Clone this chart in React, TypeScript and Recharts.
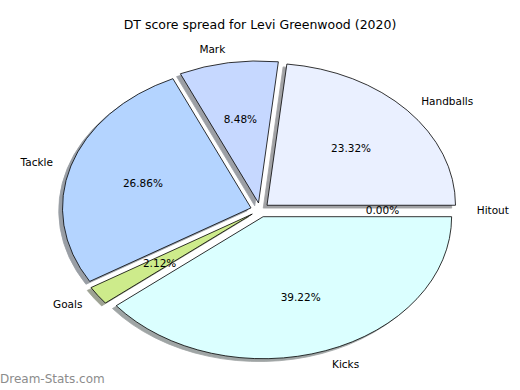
import React from 'react';
import { PieChart, Pie, Cell } from 'recharts';

// values are percent shares
const categories = ['Hitout', 'Handballs', 'Mark', 'Tackle', 'Goals', 'Kicks'];
const shares = [0, 23.32, 8.48, 26.86, 2.12, 39.22];
const sliceColors = ['#eef4ff', '#eaf0ff', '#c6d8ff', '#b4d4ff', '#cdeb8b', '#dbffff'];

const data = categories.map((name, i) => ({ name, value: shares[i] }));

const RX = 188.5;
const RY = 142;
const EXPLODE = 0.05;
const RAD = Math.PI / 180;
const FONT = '"DejaVu Sans", sans-serif';

// matplotlib-ish shadow: 0.3 * facecolor
const darken = (hex: string) => {
    const n = parseInt(hex.slice(1), 16);
    const r = Math.round(((n >> 16) & 255) * 0.3);
    const g = Math.round(((n >> 8) & 255) * 0.3);
    const b = Math.round((n & 255) * 0.3);
    return `rgb(${r},${g},${b})`;
};

const makeWedge = (shadow: boolean) => (props: any) => {
    const { cx, cy, startAngle, endAngle, midAngle, fill } = props;
    const ox = cx + EXPLODE * RX * Math.cos(midAngle * RAD) + (shadow ? -0.02 * RX : 0);
    const oy = cy - EXPLODE * RY * Math.sin(midAngle * RAD) + (shadow ? 0.02 * RY : 0);
    const x1 = ox + RX * Math.cos(startAngle * RAD);
    const y1 = oy - RY * Math.sin(startAngle * RAD);
    const x2 = ox + RX * Math.cos(endAngle * RAD);
    const y2 = oy - RY * Math.sin(endAngle * RAD);
    const large = Math.abs(endAngle - startAngle) > 180 ? 1 : 0;
    const d = `M${ox},${oy} L${x1},${y1} A${RX},${RY} 0 ${large} 0 ${x2},${y2} Z`;
    if (shadow) {
        return <path d={d} fill={fill} stroke={fill} strokeWidth={0.8} opacity={0.5} />;
    }
    return <path d={d} fill={fill} stroke="#000" strokeWidth={0.8} />;
};

const renderLabel = (props: any) => {
    const { cx, cy, midAngle, percent, name } = props;
    const c = Math.cos(midAngle * RAD);
    const s = Math.sin(midAngle * RAD);
    const lx = cx + (EXPLODE + 1.1) * RX * c;
    const ly = cy - (EXPLODE + 1.1) * RY * s;
    const px = cx + (EXPLODE + 0.6) * RX * c;
    const py = cy - (EXPLODE + 0.6) * RY * s;
    return (
        <g>
            <text x={lx} y={ly} textAnchor={c > 0 ? 'start' : 'end'} dominantBaseline="central"
                fontFamily={FONT} fontSize={10.5} fill="#000">{name}</text>
            <text x={px} y={py} textAnchor="middle" dominantBaseline="central"
                fontFamily={FONT} fontSize={10.5} fill="#000">{`${((percent ?? 0) * 100).toFixed(2)}%`}</text>
        </g>
    );
};

const shadowShape = makeWedge(true);
const wedgeShape = makeWedge(false);

export default function App() {
    return (
        <div style={{ position: 'absolute', left: 0, top: 0, width: 520, height: 390, background: '#fff' }}>
            <PieChart width={520} height={390} margin={{ top: 0, right: 0, bottom: 0, left: 0 }}>
                {/* shadows first, under every wedge */}
                <Pie data={data} dataKey="value" nameKey="name" cx={260} cy={210} outerRadius={RY}
                    startAngle={0} endAngle={360} isAnimationActive={false}
                    shape={shadowShape} inactiveShape={shadowShape} activeShape={shadowShape} label={false} labelLine={false}>
                    {data.map((_, i) => <Cell key={i} fill={darken(sliceColors[i])} />)}
                </Pie>
                <Pie data={data} dataKey="value" nameKey="name" cx={260} cy={210} outerRadius={RY}
                    startAngle={0} endAngle={360} isAnimationActive={false}
                    shape={wedgeShape} inactiveShape={wedgeShape} activeShape={wedgeShape} label={renderLabel} labelLine={false}>
                    {data.map((_, i) => <Cell key={i} fill={sliceColors[i]} />)}
                </Pie>
            </PieChart>
            <div style={{ position: 'absolute', left: 0, top: 17, width: 520, textAlign: 'center', fontFamily: FONT, fontSize: 12.5, color: '#000' }}>
                DT score spread for Levi Greenwood (2020)
            </div>
            <div style={{ position: 'absolute', left: 0, top: 372, fontFamily: FONT, fontSize: 12, color: '#8c8c8c' }}>
                Dream-Stats.com
            </div>
        </div>
    );
}
